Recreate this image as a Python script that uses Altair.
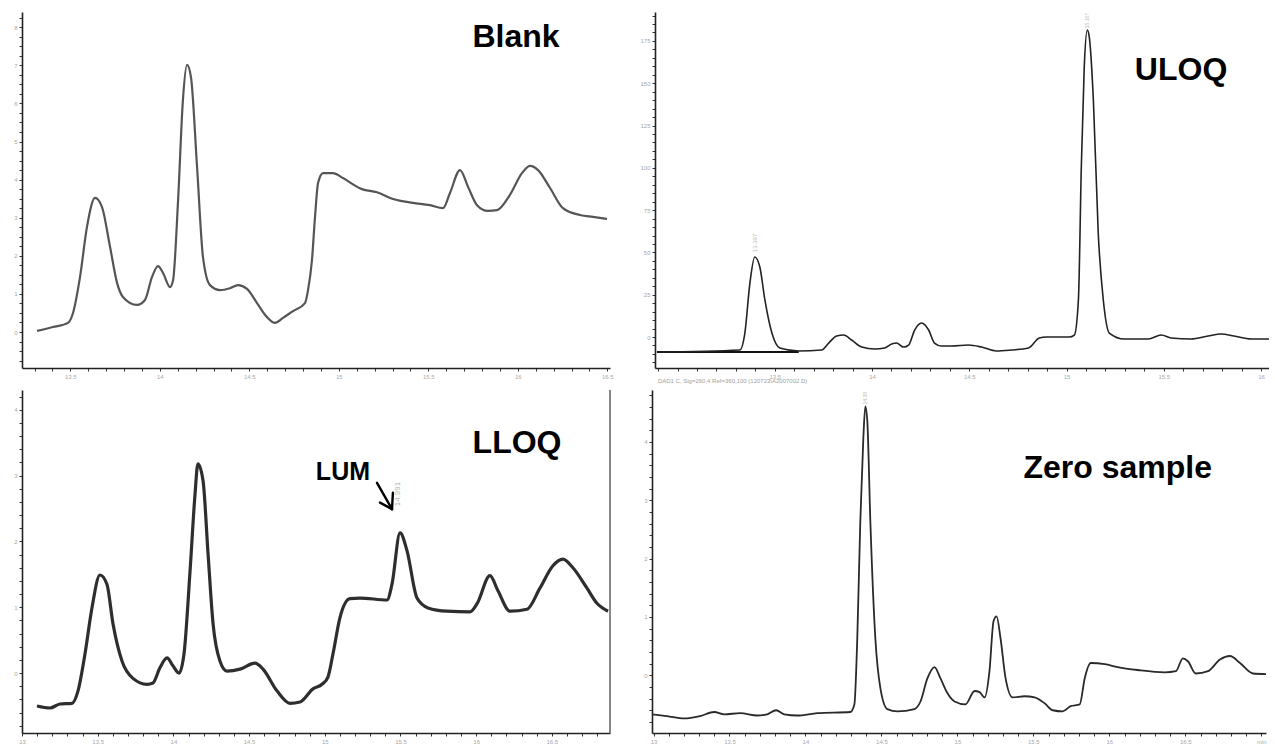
import altair as alt
import pandas as pd

# ---------------- data ----------------
blank_t = [13.314, 13.403, 13.487, 13.515, 13.554, 13.593, 13.638, 13.677, 13.722, 13.761,
           13.794, 13.872, 13.917, 13.956, 13.990, 14.018, 14.057, 14.074, 14.102, 14.129,
           14.152, 14.174, 14.208, 14.241, 14.280, 14.336, 14.392, 14.437, 14.487, 14.543,
           14.599, 14.643, 14.688, 14.744, 14.811, 14.828, 14.850, 14.867, 14.884, 14.912,
           14.967, 15.023, 15.129, 15.213, 15.303, 15.414, 15.509, 15.582, 15.621, 15.677,
           15.722, 15.772, 15.833, 15.884, 15.956, 16.023, 16.068, 16.113, 16.180, 16.252,
           16.347, 16.420, 16.498]
blank_y = [0.03, 0.13, 0.24, 0.50, 1.44, 2.76, 3.52, 3.28, 2.23, 1.29,
           0.92, 0.71, 0.84, 1.44, 1.73, 1.55, 1.18, 1.36, 3.46, 6.09,
           7.01, 6.69, 4.33, 1.97, 1.23, 1.10, 1.15, 1.23, 1.13, 0.76,
           0.39, 0.24, 0.37, 0.55, 0.76, 1.10, 1.89, 3.02, 3.91, 4.17,
           4.17, 4.04, 3.75, 3.67, 3.49, 3.39, 3.33, 3.25, 3.65, 4.25,
           3.81, 3.33, 3.18, 3.20, 3.60, 4.17, 4.36, 4.25, 3.78, 3.25,
           3.07, 3.02, 2.97]

uloq_t = [12.894, 13.320, 13.346, 13.372, 13.397, 13.423, 13.449, 13.485, 13.526, 13.623,
          13.741, 13.777, 13.818, 13.854, 13.895, 13.947, 14.013, 14.065, 14.101, 14.126,
          14.162, 14.188, 14.219, 14.255, 14.291, 14.321, 14.357, 14.409, 14.496, 14.563,
          14.640, 14.717, 14.804, 14.860, 14.896, 15.014, 15.040, 15.061, 15.076, 15.091,
          15.107, 15.117, 15.138, 15.163, 15.189, 15.220, 15.297, 15.420, 15.487, 15.538,
          15.641, 15.728, 15.795, 15.861, 15.949, 16.041]
uloq_y = [-8.87, -7.68, 2.36, 31.9, 47.3, 41.4, 21.9, 2.36, -6.50, -8.27,
          -7.68, -3.55, 0.59, 1.18, -1.77, -5.91, -7.09, -6.50, -4.14, -3.55,
          -5.91, -4.73, 4.14, 8.27, 4.14, -3.55, -5.32, -5.32, -4.73, -5.91,
          -8.27, -7.68, -6.50, -0.59, 0.0, 0.0, 1.18, 21.9, 100.5, 159.6,
          181.4, 177.3, 140.1, 61.5, 21.9, 2.36, -1.18, -1.18, 1.18, -0.59,
          -1.18, 0.59, 1.77, 0.59, -1.18, -1.18]
uloq_base_t = [12.894, 13.623]
uloq_base_y = [-8.87, -8.87]

lloq_t = [13.099, 13.185, 13.251, 13.330, 13.370, 13.416, 13.462, 13.515, 13.561, 13.601,
          13.661, 13.733, 13.826, 13.865, 13.911, 13.958, 13.997, 14.037, 14.070, 14.110,
          14.143, 14.162, 14.196, 14.229, 14.262, 14.308, 14.354, 14.440, 14.539, 14.592,
          14.684, 14.770, 14.836, 14.922, 14.982, 15.021, 15.054, 15.100, 15.166, 15.232,
          15.411, 15.444, 15.497, 15.543, 15.609, 15.682, 15.807, 15.959, 16.005, 16.091,
          16.144, 16.223, 16.336, 16.421, 16.507, 16.573, 16.639, 16.732, 16.798, 16.871]
lloq_y = [-0.50, -0.53, -0.47, -0.46, -0.27, 0.29, 0.99, 1.49, 1.35, 0.75,
          0.18, -0.08, -0.17, -0.15, 0.08, 0.23, 0.11, 0.00, 0.29, 1.55,
          2.72, 3.18, 2.92, 1.81, 0.75, 0.18, 0.03, 0.06, 0.15, 0.06,
          -0.27, -0.46, -0.44, -0.24, -0.17, -0.06, 0.29, 0.84, 1.13, 1.14,
          1.11, 1.35, 2.13, 1.86, 1.14, 0.99, 0.94, 0.93, 1.05, 1.48,
          1.25, 0.94, 0.97, 1.29, 1.63, 1.73, 1.60, 1.29, 1.06, 0.94]

zero_t = [12.990, 13.089, 13.201, 13.306, 13.399, 13.465, 13.570, 13.682, 13.748, 13.807,
          13.860, 13.946, 14.078, 14.295, 14.322, 14.341, 14.361, 14.381, 14.394, 14.407,
          14.427, 14.460, 14.493, 14.539, 14.605, 14.717, 14.757, 14.803, 14.849, 14.888,
          14.935, 14.981, 15.053, 15.113, 15.146, 15.179, 15.211, 15.238, 15.258, 15.284,
          15.317, 15.363, 15.442, 15.508, 15.574, 15.627, 15.693, 15.745, 15.805, 15.838,
          15.877, 15.970, 16.055, 16.187, 16.365, 16.438, 16.484, 16.517, 16.569, 16.649,
          16.728, 16.794, 16.860, 16.945, 17.031]
zero_y = [-0.67, -0.70, -0.74, -0.70, -0.63, -0.67, -0.65, -0.69, -0.67, -0.60,
          -0.67, -0.69, -0.65, -0.63, -0.50, 0.63, 2.64, 4.07, 4.61, 4.36,
          2.64, 0.63, -0.22, -0.58, -0.62, -0.58, -0.45, -0.05, 0.14, -0.05,
          -0.31, -0.45, -0.50, -0.27, -0.29, -0.38, 0.07, 0.93, 1.01, 0.63,
          -0.05, -0.38, -0.36, -0.38, -0.48, -0.60, -0.62, -0.53, -0.50, -0.05,
          0.21, 0.19, 0.14, 0.09, 0.05, 0.07, 0.29, 0.24, 0.03, 0.07,
          0.27, 0.33, 0.21, 0.03, 0.02]

# ---------------- axes helpers ----------------
FONT = "Liberation Sans"
X_MAJOR = "abs(datum.value*2 - round(datum.value*2)) < 0.001 ? format(datum.value, '.3~g') : ''"
X_MAJOR_MIN = "datum.value > 16.99 ? 'min' : (" + X_MAJOR + ")"
X_MAJOR_TR = "datum.value < 13.4 ? '' : (" + X_MAJOR + ")"
Y_INT = "abs(datum.value - round(datum.value)) < 0.001 ? format(datum.value, 'd') : ''"
Y_25 = "abs(datum.value/25 - round(datum.value/25)) < 0.001 ? format(datum.value, 'd') : ''"


def axis(values, expr, ext):
    return alt.Axis(values=values, labelExpr=expr, title=None, grid=False,
                    tickSize=3, tickWidth=1, tickColor="#333", domainColor="#222",
                    domainWidth=1.6, labelColor="#a8a8a8", labelFontSize=6,
                    labelFont=FONT, labelPadding=2, labelOverlap=False, labelFlush=False,
                    minExtent=ext, maxExtent=ext)


def encs(xdom, ydom, xt, yt, xexpr, yexpr):
    X = alt.X("t:Q", scale=alt.Scale(domain=xdom, nice=False, zero=False), axis=axis(xt, xexpr, 12))
    Y = alt.Y("v:Q", scale=alt.Scale(domain=ydom, nice=False, zero=False), axis=axis(yt, yexpr, 22))
    return X, Y


def big_text(X, Y, t, v, label, size=32):
    df = pd.DataFrame({"t": [t], "v": [v], "label": [label]})
    return alt.Chart(df).mark_text(font=FONT, fontWeight="bold", fontSize=size, color="#000",
                                   align="center", baseline="middle").encode(x=X, y=Y, text="label:N")


def small_vtext(X, Y, t, v, label, size=6):
    df = pd.DataFrame({"t": [t], "v": [v], "label": [label]})
    return alt.Chart(df).mark_text(font=FONT, fontSize=size, color="#b8b8b8", angle=270,
                                   align="center", baseline="middle").encode(x=X, y=Y, text="label:N")


# ---------------- Blank (top-left) ----------------
X1, Y1 = encs([13.23, 16.515], [-0.945, 8.40],
              [round(13.3 + 0.1 * i, 1) for i in range(33)],
              [round(-0.75 + 0.25 * i, 2) for i in range(37)], X_MAJOR, Y_INT)
blank = alt.layer(
    alt.Chart(pd.DataFrame({"t": blank_t, "v": blank_y})).mark_line(
        color="#555", strokeWidth=2.2, interpolate="monotone", clip=True).encode(x=X1, y=Y1),
    big_text(X1, Y1, 15.990, 7.74, "Blank"),
).properties(width=588, height=356)

# ---------------- ULOQ (top-right) ----------------
X2, Y2 = encs([12.884, 16.041], [-18.3, 192.1],
              [round(12.9 + 0.1 * i, 1) for i in range(32)],
              [-15 + 5 * i for i in range(42)], X_MAJOR_TR, Y_25)
uloq = alt.layer(
    alt.Chart(pd.DataFrame({"t": uloq_base_t, "v": uloq_base_y})).mark_line(
        color="#111", strokeWidth=2).encode(x=X2, y=Y2),
    alt.Chart(pd.DataFrame({"t": uloq_t, "v": uloq_y})).mark_line(
        color="#222", strokeWidth=1.6, interpolate="monotone", clip=True).encode(x=X2, y=Y2),
    big_text(X2, Y2, 15.589, 157.8, "ULOQ"),
    small_vtext(X2, Y2, 13.397, 55.6, "13.397"),
    small_vtext(X2, Y2, 15.107, 187.0, "15.107", size=5),
    alt.Chart(pd.DataFrame({"t": [12.899], "v": [-25.8],
                            "label": ["DAD1 C, Sig=260,4 Ref=360,100 (120723\\A2007002.D)"]}))
    .mark_text(font=FONT, fontSize=6, color="#a0a0a0", align="left", baseline="middle")
    .encode(x=X2, y=Y2, text="label:N"),
).properties(width=614, height=356)

# ---------------- LLOQ (bottom-left) ----------------
X3, Y3 = encs([13.0, 16.884], [-0.91, 4.30],
              [round(13.0 + 0.1 * i, 1) for i in range(39)],
              [round(-0.8 + 0.2 * i, 1) for i in range(26)], X_MAJOR, Y_INT)
arrow = pd.DataFrame({"t": [15.345, 15.444, 15.444], "v": [2.89, 2.49, 2.49],
                      "t2": [15.444, 15.365, 15.450], "v2": [2.49, 2.59, 2.74]})
border = pd.DataFrame({"t": [16.884], "v": [-0.91], "v2": [4.30]})
lloq = alt.layer(
    alt.Chart(pd.DataFrame({"t": lloq_t, "v": lloq_y})).mark_line(
        color="#2e2e2e", strokeWidth=3.2, interpolate="monotone", clip=True).encode(x=X3, y=Y3),
    alt.Chart(border).mark_rule(color="#555", strokeWidth=1.4).encode(x=X3, y=Y3, y2="v2:Q"),
    alt.Chart(arrow).mark_rule(color="#000", strokeWidth=2.4, strokeCap="round").encode(
        x=X3, y=Y3, x2="t2:Q", y2="v2:Q"),
    big_text(X3, Y3, 16.270, 3.50, "LLOQ"),
    big_text(X3, Y3, 15.120, 3.06, "LUM", size=25),
    small_vtext(X3, Y3, 15.483, 2.72, "14.991", size=8),
).properties(width=588, height=343)

# ---------------- Zero sample (bottom-right) ----------------
X4, Y4 = encs([12.99, 17.031], [-0.99, 4.89],
              [round(13.0 + 0.1 * i, 1) for i in range(41)],
              [round(-0.8 + 0.2 * i, 1) for i in range(29)], X_MAJOR_MIN, Y_INT)
zero = alt.layer(
    alt.Chart(pd.DataFrame({"t": zero_t, "v": zero_y})).mark_line(
        color="#2a2a2a", strokeWidth=1.8, interpolate="monotone", clip=True).encode(x=X4, y=Y4),
    big_text(X4, Y4, 16.055, 3.55, "Zero sample"),
    small_vtext(X4, Y4, 14.394, 4.75, "14.39", size=5),
).properties(width=614, height=343)

top = alt.hconcat(blank, uloq, spacing=19)
bottom = alt.hconcat(lloq, zero, spacing=19)
chart = alt.vconcat(top, bottom, spacing=5).properties(
    padding={"left": 0, "top": 12, "right": 0, "bottom": 0},
    background="white",
).configure_view(strokeWidth=0)

chart.save("out.html", embed_options={"renderer": "svg", "actions": False})
